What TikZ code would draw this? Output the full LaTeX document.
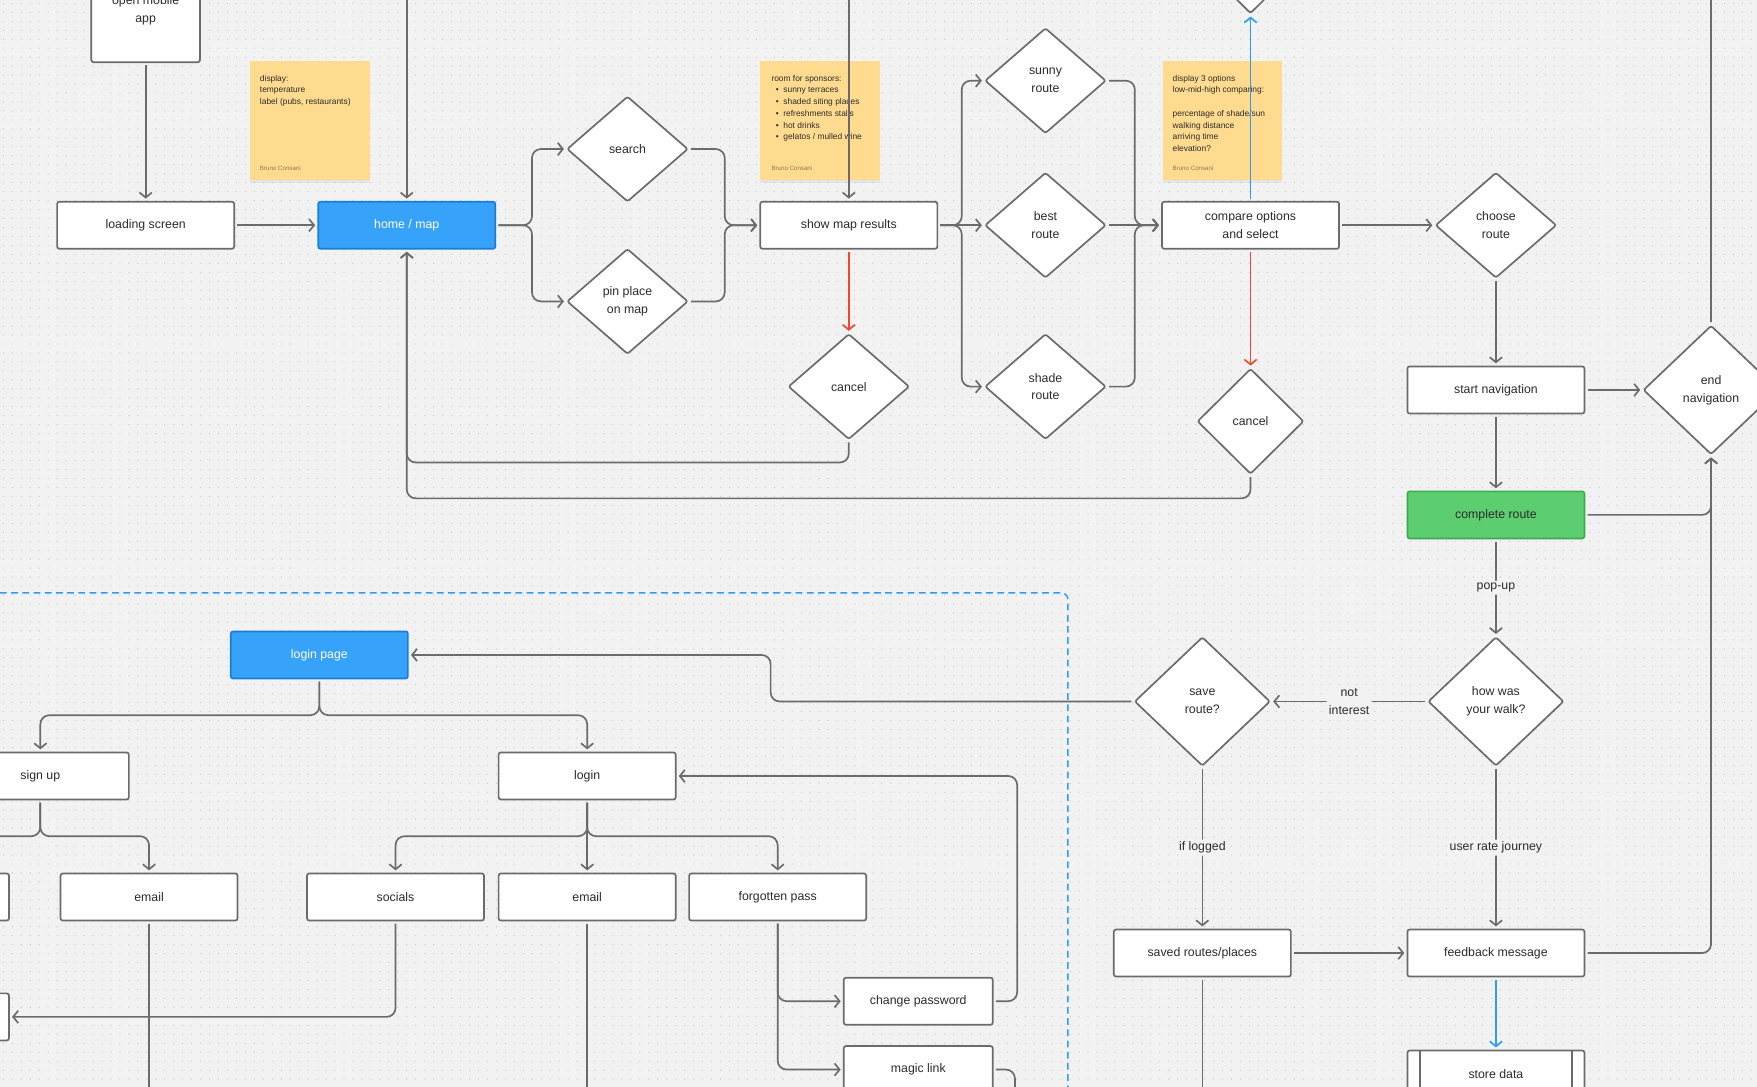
\documentclass[tikz,border=0pt]{standalone}
\usepackage{fontspec}
\setmainfont{Liberation Sans}
\usetikzlibrary{arrows.meta,shapes.geometric,shadows}

\definecolor{canvas}{HTML}{F2F2F2}
\definecolor{grain}{HTML}{C9C9C9}
\definecolor{edge}{HTML}{6B6B6B}
\definecolor{ink}{HTML}{2B2B2B}
\definecolor{hubfill}{HTML}{37A2FA}
\definecolor{hubline}{HTML}{1A7ED8}
\definecolor{donefill}{HTML}{5DCE70}
\definecolor{doneline}{HTML}{3DAA52}
\definecolor{stopred}{HTML}{F0482E}
\definecolor{goblue}{HTML}{2E9CF4}
\definecolor{paper}{HTML}{FFDB8F}
\definecolor{pencil}{HTML}{8A7B55}

\tikzset{
  box/.style={draw=edge, fill=white, line width=1.5pt, rounded corners=2pt,
    minimum width=158, minimum height=42, inner sep=0pt, align=center, text=ink},
  hub/.style={fill=hubfill, draw=hubline, text=white},
  done/.style={fill=donefill, draw=doneline, text=ink},
  choice/.style={diamond, draw=edge, fill=white, line width=1.5pt, rounded corners=2pt,
    minimum width=108, minimum height=94, inner sep=0pt, align=center, text=ink},
  big/.style={minimum width=121, minimum height=115},
  sticky/.style={fill=paper, minimum width=107, minimum height=107, inner sep=0pt,
    drop shadow={shadow xshift=0pt, shadow yshift=-2pt, opacity=0.12}},
  memo/.style={inner sep=0pt, align=left, text=ink, font=\fontsize{7.5}{10.5}\selectfont},
  signed/.style={inner sep=0pt, text=pencil, font=\fontsize{5.5}{6}\selectfont},
  line/.style={draw=edge, line width=1.5pt, rounded corners=8pt, shorten <=2pt},
  link/.style={line, -{Straight Barb[length=4.5pt,width=11pt]}, shorten >=2pt},
  stop/.style={link, draw=stopred},
  go/.style={link, draw=goblue},
  tag/.style={fill=canvas, text=ink, inner sep=2pt, align=center},
  frame/.style={draw=goblue, line width=1.3pt, dash pattern=on 6pt off 4pt, rounded corners=6pt},
  dots/.style={draw=grain, line width=1.2pt, line cap=round, dash pattern=on 0pt off 8pt}
}

\begin{document}
\begin{tikzpicture}[x=1pt, y=-1pt, font=\fontsize{11}{16}\selectfont]
\clip (0,0) rectangle (1568,970);
\fill[canvas] (0,0) rectangle (1568,970);
\foreach \r in {3,11,...,970}
  \draw[dots] (3,\r) -- (1568,\r);

\node[sticky] (noteA) at (276.5,107.5) {};
\node[memo, anchor=north west] (noteAtxt) at ([shift={(9,13)}]noteA.north west)
  {display:\\temperature\\label (pubs, restaurants)};
\node[signed, anchor=south west] (noteAsig) at ([shift={(9,-9)}]noteA.south west) {Bruno Consani};
\node[sticky] (noteB) at (732,107.5) {};
\node[memo, anchor=north west] (noteBtxt) at ([shift={(10,13)}]noteB.north west)
  {room for sponsors:\\
   \hspace*{4pt}\textbullet\hspace{4pt}sunny terraces\\
   \hspace*{4pt}\textbullet\hspace{4pt}shaded siting places\\
   \hspace*{4pt}\textbullet\hspace{4pt}refreshments stalls\\
   \hspace*{4pt}\textbullet\hspace{4pt}hot drinks\\
   \hspace*{4pt}\textbullet\hspace{4pt}gelatos / mulled wine};
\node[signed, anchor=south west] (noteBsig) at ([shift={(10,-9)}]noteB.south west) {Bruno Consani};
\node[sticky] (noteC) at (1091,107.5) {};
\node[memo, anchor=north west] (noteCtxt) at ([shift={(9,13)}]noteC.north west)
  {display 3 options\\low-mid-high comparing:\\[10.5pt]percentage of shade/sun\\walking distance\\arriving time\\elevation?};
\node[signed, anchor=south west] (noteCsig) at ([shift={(9,-9)}]noteC.south west) {Bruno Consani};

\node[box, minimum width=97, minimum height=93] (open) at (130,9) {open mobile\\app};
\node[box] (load) at (130,201) {loading screen};
\node[box, hub] (home) at (363,201) {home / map};
\node[choice] (search) at (560,133) {search};
\node[choice] (pin) at (560,269) {pin place\\on map};
\node[box] (show) at (757.5,201) {show map results};
\node[choice] (cancelA) at (757.5,345) {cancel};
\node[choice] (sunny) at (933,72) {sunny\\route};
\node[choice] (best) at (933,201) {best\\route};
\node[choice] (shade) at (933,345) {shade\\route};
\node[box] (compare) at (1116,201) {compare options\\and select};
\node[choice, minimum width=95] (cancelB) at (1116,376) {cancel};
\node[choice, minimum width=95] (above) at (1116,-35) {};
\node[choice] (choose) at (1335,201) {choose\\route};
\node[box] (start) at (1335,348) {start navigation};
\node[choice, big] (endnav) at (1527,348) {end\\navigation};
\node[box, done] (complete) at (1335,459.5) {complete route};
\node[choice, big] (how) at (1335,626) {how was\\your walk?};
\node[choice, big] (save) at (1073,626) {save\\route?};
\node[box] (saved) at (1073,850.5) {saved routes/places};
\node[box] (feedback) at (1335,850.5) {feedback message};
\node[box] (store) at (1335,958.5) {store data};
\draw[edge, line width=1.5pt] ([xshift=12pt]store.north west) -- ([xshift=12pt]store.south west);
\draw[edge, line width=1.5pt] ([xshift=-12pt]store.north east) -- ([xshift=-12pt]store.south east);

\node[box, hub] (lpage) at (285,584.5) {login page};
\node[box] (signup) at (36,692.5) {sign up};
\node[box] (login) at (524,692.5) {login};
\node[box] (upleft) at (-71,800.5) {};
\node[box] (upmail) at (133,800.5) {email};
\node[box] (social) at (353,800.5) {socials};
\node[box] (inmail) at (524,800.5) {email};
\node[box] (forgot) at (694,800.5) {forgotten pass};
\node[box] (lowleft) at (-71,907.5) {};
\node[box, minimum width=133] (chpass) at (819.5,893.5) {change password};
\node[box, minimum width=133] (magic) at (819.5,954.5) {magic link};

\coordinate (feedA) at (363,-20);
\coordinate (feedB) at (757.5,-20);
\coordinate (exit) at (1527,-20);

\draw[link] (open) -- (load);
\draw[link] (feedA) -- (home.north);
\draw[link] (feedB) -- (show.north);
\draw[link] (load) -- (home);
\draw[link] (home.east) -- ++(32,0) |- (search.west);
\draw[link] (home.east) -- ++(32,0) |- (pin.west);
\draw[link] (search.east) -- ++(32,0) |- (show.west);
\draw[link] (pin.east) -- ++(32,0) |- (show.west);
\draw[link] (show.east) -- ++(21,0) |- (sunny.west);
\draw[link] (show.east) -- (best.west);
\draw[link] (show.east) -- ++(21,0) |- (shade.west);
\draw[link] (sunny.east) -- ++(25,0) |- (compare.west);
\draw[link] (best.east) -- (compare.west);
\draw[link] (shade.east) -- ++(25,0) |- (compare.west);
\draw[stop] (show) -- (cancelA);
\draw[stop] (compare) -- (cancelB);
\draw[link] (cancelA.south) -- ++(0,20) -| (home.south);
\draw[link] (cancelB.south) -- ++(0,21) -| (home.south);
\draw[go] (compare) -- (above);
\draw[link] (compare) -- (choose);
\draw[link] (choose) -- (start);
\draw[link] (start.east) -- (endnav.west);
\draw[link] (start) -- (complete);
\draw[line] (endnav.north) -- (exit);
\draw[link] (complete.east) -| (endnav.south);
\draw[link] (feedback.east) -| (endnav.south);
\draw[link] (complete) -- node[tag] {pop-up} (how);
\draw[link] (how) -- node[tag] {not\\interest} (save);
\draw[link] (how) -- node[tag] {user rate journey} (feedback);
\draw[link] (save) -- node[tag] {if logged} (saved);
\draw[link] (saved) -- (feedback);
\draw[go] (feedback) -- (store);
\draw[line] (saved.south) -- ++(0,130);
\draw[link] (save.west) -- ++(-324,0) |- (lpage.east);

\draw[frame] (-10,529) -- (953,529) -- (953,990);

\draw[link] (lpage.south) -- ++(0,32) -| (signup.north);
\draw[link] (lpage.south) -- ++(0,32) -| (login.north);
\draw[link] (signup.south) -- ++(0,32) -| (upleft.north);
\draw[link] (signup.south) -- ++(0,32) -| (upmail.north);
\draw[link] (login.south) -- ++(0,32) -| (social.north);
\draw[link] (login) -- (inmail);
\draw[link] (login.south) -- ++(0,32) -| (forgot.north);
\draw[link] (social.south) |- (lowleft.east);
\draw[line] (upmail.south) -- ++(0,170);
\draw[line] (inmail.south) -- ++(0,170);
\draw[link] (forgot.south) |- (chpass.west);
\draw[link] (forgot.south) |- (magic.west);
\draw[link] (chpass.east) -- ++(21,0) |- (login.east);
\draw[line] (magic.east) -- ++(19,0) -- ++(0,60);
\end{tikzpicture}
\end{document}
